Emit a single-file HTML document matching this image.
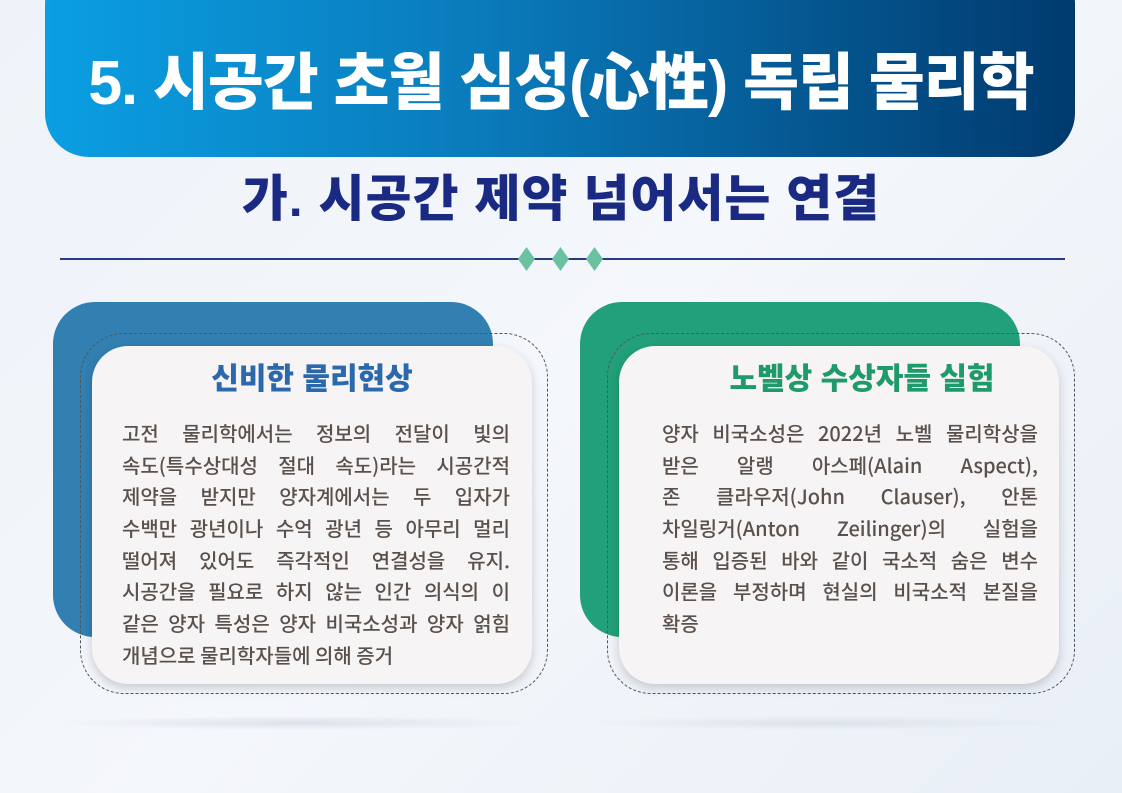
<!DOCTYPE html>
<html><head><meta charset="utf-8">
<style>
html,body{margin:0;width:1122px;height:793px;overflow:hidden;}
body{position:relative;background:linear-gradient(135deg,#eef3f9 0%,#f4f7fb 50%,#e9eff7 100%);font-family:"Liberation Sans","Noto Sans CJK KR",sans-serif;}
.abs{position:absolute}
.banner{left:45px;top:-40px;width:1030px;height:197px;border-radius:44px;background:linear-gradient(90deg,#0a9fe2 0%,#0a78b8 45%,#003a6e 100%)}
.title{left:0;top:42px;width:1122px;text-align:center;color:#fff;font-weight:900;font-size:62px;line-height:84px;transform:scaleX(0.98);white-space:nowrap;letter-spacing:-1px}
.sub{left:0;top:168px;width:1122px;text-align:center;color:#1a2a82;font-weight:900;font-size:50px;line-height:62px;letter-spacing:1px;white-space:nowrap}
.line{left:60px;top:258px;width:1005px;height:2px;background:#2a3a8a}
.dia{top:247px;width:17px;height:24px;background:#6cc2a0;clip-path:polygon(50% 0,100% 50%,50% 100%,0 50%)}
.back{top:302px;width:440px;height:335px;border-radius:42px}
.dash{top:333px;width:466px;height:359px;border:1.5px dashed #555;border-radius:44px}
.card{top:346px;width:440px;height:338px;border-radius:36px;background:#f6f4f4;box-shadow:0 4px 10px rgba(0,0,0,.18)}
.ct{font-weight:900;font-size:30px;text-align:center;line-height:40px}
.body{color:#5b504b;font-family:"Noto Sans CJK KR",sans-serif;font-size:20px;line-height:31.7px;font-weight:500}
.body div{text-align:justify;text-align-last:justify;white-space:nowrap;height:31.7px}
.body div.l{text-align-last:left}
.floor{top:716px;width:500px;height:14px;border-radius:50%;background:radial-gradient(ellipse,#dde2ea 0%,rgba(230,234,240,0) 70%)}
</style></head><body>
<div class="abs banner"></div>
<div class="abs title">5. 시공간 초월 심성(心性) 독립 물리학</div>
<div class="abs sub">가. 시공간 제약 넘어서는 연결</div>
<div class="abs line"></div>
<div class="abs dia" style="left:518px"></div>
<div class="abs dia" style="left:552px"></div>
<div class="abs dia" style="left:586px"></div>

<div class="abs floor" style="left:50px"></div>
<div class="abs floor" style="left:576px"></div>

<div class="abs back" style="left:53px;background:#327fb2"></div>
<div class="abs dash" style="left:80px"></div>
<div class="abs card" style="left:92px"></div>
<div class="abs ct" style="left:92px;top:360px;width:440px;color:#2c68ac">신비한 물리현상</div>
<div class="abs body" style="left:122px;top:417px;width:388px">
<div>고전 물리학에서는 정보의 전달이 빛의</div>
<div>속도(특수상대성 절대 속도)라는 시공간적</div>
<div>제약을 받지만 양자계에서는 두 입자가</div>
<div>수백만 광년이나 수억 광년 등 아무리 멀리</div>
<div>떨어져 있어도 즉각적인 연결성을 유지.</div>
<div>시공간을 필요로 하지 않는 인간 의식의 이</div>
<div>같은 양자 특성은 양자 비국소성과 양자 얽힘</div>
<div class="l">개념으로 물리학자들에 의해 증거</div>
</div>

<div class="abs back" style="left:580px;background:#22a07a"></div>
<div class="abs dash" style="left:607px"></div>
<div class="abs card" style="left:619px"></div>
<div class="abs ct" style="left:642px;top:360px;width:440px;color:#1f9a6a">노벨상 수상자들 실험</div>
<div class="abs body" style="left:662px;top:417px;width:376px">
<div>양자 비국소성은 2022년 노벨 물리학상을</div>
<div>받은 알랭 아스페(Alain Aspect),</div>
<div>존 클라우저(John Clauser), 안톤</div>
<div>차일링거(Anton Zeilinger)의 실험을</div>
<div>통해 입증된 바와 같이 국소적 숨은 변수</div>
<div>이론을 부정하며 현실의 비국소적 본질을</div>
<div class="l">확증</div>
</div>
</body></html>
